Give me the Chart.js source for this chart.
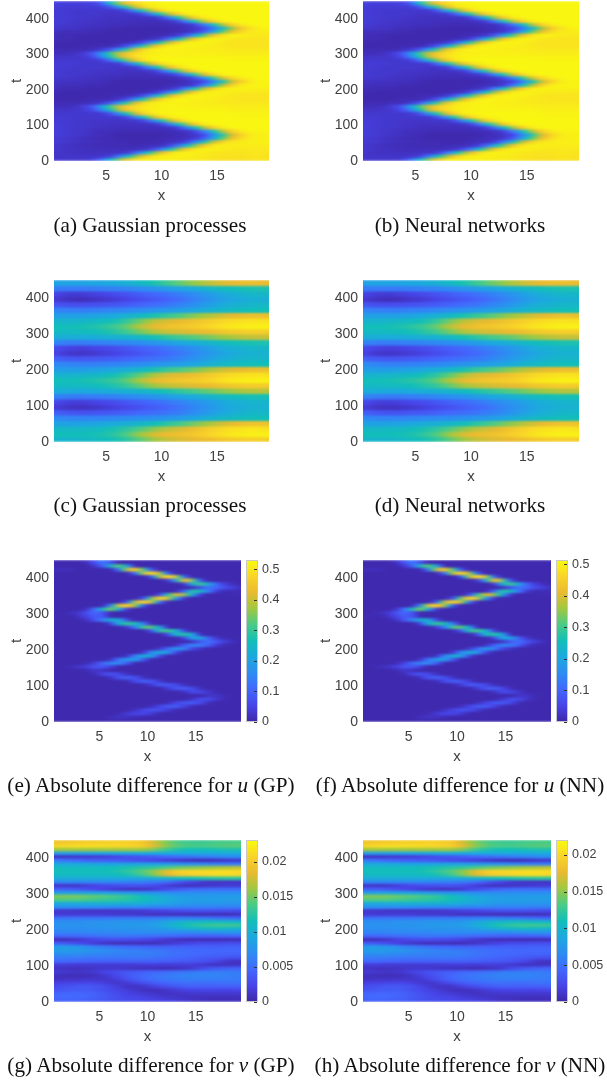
<!DOCTYPE html>
<html>
<head>
<meta charset="utf-8">
<script src="https://cdn.jsdelivr.net/npm/chart.js@4"></script>
<style>
body { margin: 0; background: #fff; width: 607px; height: 1081px; position: relative; overflow: hidden; }
canvas { position: absolute; }
.clip { position: absolute; overflow: hidden; filter: blur(0.4px); }
.heat { filter: url(#smear); }
.axes { filter: blur(0.3px); }
.cap { position: absolute; width: 310px; text-align: center; font: 21.2px "Liberation Serif", serif; color: #111; white-space: nowrap; filter: blur(0.3px); }
</style>
</head>
<body>
<svg width="0" height="0" style="position:absolute">
  <filter id="smear" x="-10%" y="-10%" width="120%" height="120%" color-interpolation-filters="sRGB">
    <feGaussianBlur stdDeviation="3.2 0.8"/>
  </filter>
</svg>
<script>
// grid columns and rows, grid values are percent of the panel's colour range
const xFine = [0.3,1.1,2,2.8,3.7,4.5,5.4,6.2,7,7.9,8.7,9.6,10.4,11.3,12.1,12.9,13.8,14.6,15.5,16.3,17.2,18,18.9,19.7];
const xCoarse = [0.3,1.6,2.9,4.2,5.5,6.8,8.1,9.4,10.6,11.9,13.2,14.5,15.8,17.1,18.4,19.7];
const tFine = [5,15,25,35,45,55,65,75,85,95,105,115,125,135,145,155,165,175,185,195,205,215,225,235,245,255,265,275,285,295,305,315,325,335,345,355,365,375,385,395,405,415,425,435,445];
const tCoarse = [7.5,22.5,37.5,52.5,67.5,82.5,97.5,112.5,127.5,142.5,157.5,172.5,187.5,202.5,217.5,232.5,247.5,262.5,277.5,292.5,307.5,322.5,337.5,352.5,367.5,382.5,397.5,412.5,427.5,442.5];

const xTicks = [5,10,15];
const tTicks = [0,100,200,300,400];
const barTicksU = [0,0.1,0.2,0.3,0.4,0.5];
const barTicksV = [0,0.005,0.01,0.015,0.02];

const uField = [
[6,6,6,6,7,18,45,67,85,95,97,97,97,97,96,96,95,94,93,93,93,94,94,93],
[5,5,5,5,5,5,8,25,48,72,88,96,97,97,97,96,95,94,94,93,93,94,94,93],
[5,5,4,4,4,4,4,5,7,25,48,72,88,96,97,97,96,95,94,94,94,95,95,94],
[6,5,4,4,3,3,3,3,3,4,6,16,38,63,84,94,97,97,96,95,95,95,95,95],
[6,5,4,3,3,2,2,2,2,2,3,3,6,18,42,63,85,95,97,96,96,96,96,96],
[7,6,5,4,3,3,2,2,2,1,1,2,3,4,8,25,50,73,90,95,96,97,97,97],
[7,6,5,4,3,2,2,1,1,1,1,1,2,3,3,6,15,38,62,82,92,96,97,97],
[8,7,6,5,4,3,2,1,1,1,1,1,1,2,3,5,10,28,52,76,89,95,97,97],
[8,7,6,5,4,3,3,2,2,2,2,2,2,3,4,8,25,46,72,88,95,98,98,98],
[8,7,6,6,5,4,4,3,3,3,3,3,4,7,22,45,70,87,96,98,99,99,99,99],
[8,7,6,6,5,5,4,4,4,4,4,6,15,42,63,84,95,98,99,99,99,99,99,99],
[7,7,6,6,5,5,5,5,5,6,14,38,61,84,94,98,99,99,99,99,99,99,99,99],
[7,7,6,6,6,6,6,6,13,35,58,82,93,97,98,99,99,99,99,99,98,98,98,98],
[6,6,6,6,6,6,13,33,55,80,92,97,98,99,99,99,99,99,99,98,98,98,98,98],
[5,5,5,6,11,24,48,72,86,93,96,98,98,98,98,98,98,98,98,97,97,97,97,97],
[3,3,4,7,14,36,60,78,88,93,96,97,98,98,98,97,97,97,97,96,96,96,96,96],
[2,2,2,3,3,6,15,38,60,84,94,97,98,98,97,97,96,96,95,95,95,95,95,95],
[1,1,1,1,2,2,2,6,15,42,63,85,95,98,98,97,97,96,95,95,94,94,94,94],
[1,1,1,1,1,1,2,2,3,7,18,45,67,87,95,98,98,97,96,95,94,94,94,94],
[2,1,1,1,1,1,1,1,1,2,3,7,22,48,70,87,96,98,97,96,95,95,95,95],
[3,2,2,2,1,1,1,1,1,1,1,2,3,8,25,48,72,88,96,98,98,97,97,96],
[4,3,3,3,2,2,1,1,1,1,1,1,2,3,4,7,24,48,72,88,96,98,98,98],
[5,4,4,4,3,3,2,1,1,1,1,1,1,2,3,5,9,25,48,74,88,95,98,98],
[6,6,5,5,4,4,3,3,2,2,2,2,2,3,5,11,30,55,78,90,96,98,99,99],
[7,6,6,5,5,4,4,4,3,3,3,4,6,10,30,53,77,91,97,99,99,99,99,99],
[7,6,6,6,5,5,5,4,4,4,5,9,28,53,76,90,97,99,99,99,99,99,99,99],
[7,7,6,6,6,6,5,5,5,8,25,50,73,90,96,99,99,99,99,99,99,99,99,99],
[7,7,7,6,6,6,6,7,22,48,70,88,95,98,99,99,99,99,99,99,99,99,99,99],
[6,6,6,6,6,7,22,45,67,87,95,98,99,99,99,99,99,99,99,98,98,98,98,98],
[5,5,5,6,10,26,52,73,87,94,97,98,98,98,98,98,98,98,98,98,98,98,98,98],
[3,3,4,6,13,32,58,76,87,93,96,97,97,97,97,97,97,97,96,96,96,96,96,96],
[2,2,2,2,3,6,15,38,60,84,94,97,98,98,97,97,96,96,96,95,95,95,95,95],
[1,1,1,1,2,2,2,6,15,42,63,85,95,98,98,97,97,96,95,94,94,94,94,94],
[2,1,1,1,1,1,1,2,3,7,18,45,67,87,95,98,98,97,95,94,94,94,94,94],
[3,2,2,1,1,1,1,1,1,1,3,5,15,42,63,84,95,98,97,95,94,94,94,94],
[3,2,2,1,1,1,1,1,1,1,1,2,3,6,14,36,60,82,94,98,97,96,95,95],
[4,3,3,3,2,2,1,1,1,1,1,1,1,2,3,6,15,38,62,80,91,95,96,96],
[6,5,5,4,3,3,2,2,1,1,1,1,1,2,3,5,9,22,44,68,85,93,97,98],
[7,6,5,5,4,4,3,3,3,2,2,2,2,3,4,8,25,46,72,88,95,98,99,99],
[7,7,6,5,5,4,4,4,3,3,3,3,4,7,24,48,72,88,96,98,99,99,99,99],
[7,7,6,6,5,5,4,4,4,4,4,6,18,46,68,87,96,98,99,99,99,99,99,99],
[7,7,6,6,6,5,5,5,5,7,18,45,67,87,95,98,99,99,99,99,99,99,99,99],
[7,7,6,6,6,6,6,6,15,42,63,85,95,98,99,99,99,99,99,99,99,99,99,99],
[8,7,7,7,7,7,14,36,58,82,93,97,98,99,99,99,99,99,99,99,99,99,99,99],
[9,8,8,8,9,14,48,70,85,93,97,98,99,99,99,99,99,99,99,99,99,99,99,99]
];

const vField = [
[45,45,46,48,50,54,62,70,75,78,80,82,85,87,88,87],
[50,50,50,51,54,60,70,78,81,83,86,90,94,96,97,97],
[47,47,47,48,51,55,61,68,74,78,83,88,92,94,95,93],
[38,38,38,39,41,43,46,50,55,60,66,72,78,82,84,83],
[30,28,28,28,29,30,31,32,34,36,40,44,47,49,50,50],
[18,15,14,15,16,18,20,22,24,27,31,36,41,44,46,46],
[8,5,4,6,8,11,14,17,20,24,29,34,39,42,44,44],
[12,8,8,10,12,15,18,21,24,28,32,36,41,43,45,45],
[28,26,25,26,27,29,31,33,36,39,42,45,48,50,51,51],
[42,41,40,41,42,43,45,48,52,56,60,64,68,71,73,73],
[48,48,48,49,52,56,63,70,74,77,79,81,84,86,87,86],
[50,50,51,53,56,62,72,80,83,85,87,90,94,96,97,97],
[44,45,46,47,50,55,63,72,78,80,83,87,91,93,94,93],
[36,36,36,37,39,42,46,52,57,61,66,72,77,80,82,82],
[30,28,27,27,28,29,31,33,35,37,40,44,47,49,50,50],
[18,16,15,16,17,19,21,23,25,29,33,38,42,45,46,46],
[10,6,5,7,9,12,15,18,21,25,30,35,39,42,44,44],
[12,9,8,10,12,15,18,21,24,28,32,37,42,44,46,46],
[28,26,26,27,28,29,31,34,37,40,43,46,49,51,52,52],
[42,42,41,42,43,44,47,51,55,59,62,66,70,73,75,75],
[48,48,49,50,53,58,65,72,76,78,80,82,85,87,88,87],
[50,50,51,53,57,63,73,80,83,85,87,91,94,96,97,97],
[45,45,46,48,50,56,65,74,78,81,84,88,91,93,94,93],
[36,37,37,38,40,43,47,52,57,62,68,73,78,81,83,82],
[28,27,26,27,28,29,31,33,35,37,40,44,47,49,50,50],
[15,13,13,14,15,17,19,22,24,28,32,37,42,44,46,46],
[7,4,3,5,7,10,13,16,19,23,28,33,38,41,43,43],
[10,7,7,9,11,14,17,20,23,27,31,36,41,44,46,46],
[26,25,25,26,27,28,30,33,36,39,42,46,49,51,52,52],
[38,38,38,39,40,43,47,52,58,64,70,75,79,81,82,80]
];

const uDiff = [
[1,1,1,1,1,1,1,2,1,1,1,1,1,1,1,1,1,1,1,1,1,1,1,1],
[1,1,1,1,1,1,1,3,5,4,2,1,1,1,1,1,1,1,1,1,1,1,1,1],
[1,1,1,1,1,1,1,1,2,7,10,10,7,1,1,1,1,1,1,1,1,1,1,1],
[1,1,1,1,1,1,1,1,1,1,4,10,15,13,7,2,1,1,1,1,1,1,1,1],
[1,1,1,1,1,1,1,1,1,1,1,1,3,10,16,17,9,3,1,1,1,1,1,1],
[1,1,1,1,1,1,1,1,1,1,1,1,1,1,2,9,15,17,12,3,1,1,1,1],
[1,1,1,1,1,1,1,1,1,1,1,1,1,1,1,1,1,5,12,12,5,2,1,1],
[1,1,1,1,1,1,1,1,1,1,1,1,1,1,1,1,1,1,1,5,5,2,1,1],
[1,1,1,1,1,1,1,1,1,1,1,1,1,1,1,1,3,12,11,6,1,1,1,1],
[1,1,1,1,1,1,1,1,1,1,1,1,1,1,7,15,17,12,3,1,1,1,1,1],
[1,1,1,1,1,1,1,1,1,1,1,2,7,17,15,11,3,1,1,1,1,1,1,1],
[1,1,1,1,1,1,1,1,1,2,12,18,16,6,1,1,1,1,1,1,1,1,1,1],
[1,1,1,1,1,1,1,4,15,18,14,4,1,1,1,1,1,1,1,1,1,1,1,1],
[1,1,1,1,1,2,11,15,11,3,1,1,1,1,1,1,1,1,1,1,1,1,1,1],
[1,1,1,1,2,6,4,1,1,1,1,1,1,1,1,1,1,1,1,1,1,1,1,1],
[1,1,3,5,8,15,15,9,1,1,1,1,1,1,1,1,1,1,1,1,1,1,1,1],
[1,1,1,1,2,8,21,29,30,15,1,1,1,1,1,1,1,1,1,1,1,1,1,1],
[1,1,1,1,1,1,1,4,24,36,38,14,1,1,1,1,1,1,1,1,1,1,1,1],
[1,1,1,1,1,1,1,1,1,4,28,46,40,9,1,1,1,1,1,1,1,1,1,1],
[1,1,1,1,1,1,1,1,1,1,1,5,30,44,36,11,1,1,1,1,1,1,1,1],
[1,1,1,1,1,1,1,1,1,1,1,1,1,6,20,36,30,10,5,1,1,1,1,1],
[1,1,1,1,1,1,1,1,1,1,1,1,1,1,1,3,18,29,27,17,6,2,1,1],
[1,1,1,1,1,1,1,1,1,1,1,1,1,1,1,1,1,3,15,24,15,8,3,1],
[1,1,1,1,1,1,1,1,1,1,1,1,1,1,1,1,8,40,42,18,5,2,1,1],
[1,1,1,1,1,1,1,1,1,1,1,1,1,1,10,48,56,44,1,1,1,1,1,1],
[1,1,1,1,1,1,1,1,1,1,1,1,14,56,60,48,8,1,1,1,1,1,1,1],
[1,1,1,1,1,1,1,1,1,6,24,62,64,40,1,1,1,1,1,1,1,1,1,1],
[1,1,1,1,1,1,1,8,44,58,52,24,1,1,1,1,1,1,1,1,1,1,1,1],
[2,1,1,1,4,14,30,44,44,10,1,1,1,1,1,1,1,1,1,1,1,1,1,1],
[2,2,1,4,10,17,15,1,1,1,1,1,1,1,1,1,1,1,1,1,1,1,1,1],
[1,1,3,6,13,22,14,1,1,1,1,1,1,1,1,1,1,1,1,1,1,1,1,1],
[1,1,1,1,4,22,50,70,42,5,1,1,1,1,1,1,1,1,1,1,1,1,1,1],
[1,1,1,1,1,1,1,30,85,92,74,12,1,1,1,1,1,1,1,1,1,1,1,1],
[1,1,1,1,1,1,1,1,1,14,78,95,82,20,1,1,1,1,1,1,1,1,1,1],
[1,1,1,1,1,1,1,1,1,1,1,12,65,95,82,38,4,1,1,1,1,1,1,1],
[1,1,1,1,1,1,1,1,1,1,1,1,1,10,52,80,72,42,6,1,1,1,2,2],
[1,1,1,1,1,1,1,1,1,1,1,1,1,1,1,1,18,56,50,26,6,2,2,2],
[1,1,1,1,1,1,1,1,1,1,1,1,1,1,1,1,1,3,12,24,20,12,8,4],
[1,1,1,1,1,1,1,1,1,1,1,1,1,1,1,1,4,42,62,42,18,8,3,1],
[1,1,1,1,1,1,1,1,1,1,1,1,1,1,5,36,88,72,12,1,1,1,1,1],
[1,1,1,1,1,1,1,1,1,1,1,1,12,78,95,86,18,1,1,1,1,1,1,1],
[1,1,1,1,1,1,1,1,1,1,18,80,95,76,16,1,1,1,1,1,1,1,1,1],
[3,3,3,1,1,1,1,1,22,78,90,60,12,1,1,1,1,1,1,1,1,1,1,1],
[1,1,1,1,1,5,18,48,66,40,1,1,1,1,1,1,1,1,1,1,1,1,1,1],
[1,1,1,1,4,14,26,14,1,1,1,1,1,1,1,1,1,1,1,1,1,1,1,1]
];

const vDiff = [
[17,19,18,17,15,13,12,11,10,9,7,5,4,3,3,3],
[20,21,20,19,16,13,11,10,8,6,5,4,4,3,3,4],
[19,20,20,19,16,12,9,7,5,4,5,6,6,6,6,6],
[14,16,16,16,13,10,7,4,3,5,8,10,10,10,10,11],
[12,14,16,16,13,8,4,5,9,13,16,18,18,18,18,18],
[8,9,10,10,8,5,8,13,17,20,22,23,22,22,23,23],
[4,5,5,6,5,8,14,19,22,24,25,26,26,26,25,25],
[4,3,3,3,6,11,16,20,23,25,27,28,28,28,27,26],
[7,6,5,6,10,13,16,18,20,21,23,25,26,26,26,25],
[5,4,4,5,6,6,5,4,4,3,4,6,12,16,18,18],
[8,8,7,7,7,7,7,8,8,7,8,8,6,4,4,5],
[20,20,19,18,18,18,18,18,18,17,16,15,14,10,5,4],
[26,26,25,24,24,24,24,24,23,22,20,19,17,16,14,14],
[31,31,30,29,28,27,27,27,26,24,22,21,20,19,19,19],
[36,36,35,33,31,29,27,26,25,23,22,21,20,20,20,20],
[35,35,33,28,25,22,20,19,18,18,18,18,18,18,18,18],
[18,16,12,8,5,3,3,3,3,5,8,10,12,12,13,13],
[3,4,6,10,12,13,12,11,9,6,4,3,3,3,3,3],
[20,20,21,22,23,24,24,23,22,21,20,19,18,18,19,20],
[28,28,28,29,29,29,30,30,30,30,29,29,30,32,33,32],
[30,31,31,31,32,32,33,33,34,36,40,44,46,47,45,44],
[32,32,32,33,33,34,35,35,36,42,48,53,56,58,58,57],
[31,31,31,32,32,33,33,33,34,38,42,46,47,47,46,44],
[22,22,23,23,23,24,24,24,24,25,26,25,24,22,20,18],
[7,7,7,7,7,6,6,5,4,4,4,3,3,3,3,5],
[6,6,5,5,5,5,6,7,9,10,12,14,14,14,13,12],
[30,30,30,30,29,28,28,28,27,27,27,26,26,26,26,26],
[40,40,41,42,43,43,43,42,40,38,36,34,34,34,33,33],
[60,60,60,58,56,55,53,50,46,42,38,36,36,36,35,35],
[66,66,65,63,61,58,55,50,45,40,37,36,36,36,36,36],
[36,37,38,38,37,35,33,32,31,30,30,30,30,30,30,30],
[18,18,16,12,9,6,5,5,7,12,16,20,22,22,22,22],
[6,6,6,9,11,13,14,14,12,8,5,4,5,6,7,7],
[28,28,28,28,28,28,27,26,25,22,15,10,6,5,5,5],
[42,42,42,42,42,41,40,40,42,45,48,50,52,54,55,55],
[48,48,48,48,48,49,52,58,66,78,86,88,90,92,92,90],
[50,50,50,50,50,52,56,62,68,80,88,90,91,92,92,91],
[48,48,48,48,48,50,52,54,56,60,64,66,68,70,72,74],
[40,40,40,39,38,38,38,38,37,35,33,31,29,27,26,26],
[25,23,20,18,17,16,14,12,10,8,6,4,3,4,6,7],
[5,5,6,7,8,10,13,15,17,20,22,24,26,28,30,31],
[35,36,36,37,38,39,40,40,40,40,40,40,40,40,40,40],
[70,70,70,70,70,70,70,70,66,58,52,50,50,51,52,52],
[90,91,92,92,92,91,90,88,80,68,62,60,60,61,62,62],
[84,85,86,87,88,88,88,86,76,66,60,58,58,59,60,60]
];

const parula = [[62,38,168],[71,68,232],[67,103,253],[45,140,243],[28,169,223],[18,190,185],[72,203,135],[160,200,65],[234,186,48],[249,213,40],[249,251,14]];

function colourAt(pct) {
    let p = Math.max(0, Math.min(0.9999, pct / 100)) * 10;
    let i = Math.floor(p), f = p - i;
    let a = parula[i], b = parula[i + 1];
    return 'rgb(' + [0, 1, 2].map(k => Math.round(a[k] + (b[k] - a[k]) * f)).join(',') + ')';
}

function rowGradient(c, row, xs) {
    let sx = c.chart.scales.x;
    let left = sx.getPixelForValue(xs[0]), right = sx.getPixelForValue(xs[xs.length - 1]);
    // scale has no size on the first pass
    if (!isFinite(left) || !isFinite(right) || right <= left) return '#3e26a8';
    let g = c.chart.ctx.createLinearGradient(left, 0, right, 0);
    for (let i = 0; i < xs.length - 1; i++) {
        // same idea as matlab's shading interp, colour goes through the map
        for (let s = 0; s <= 5; s++) {
            let x = xs[i] + (xs[i + 1] - xs[i]) * s / 5;
            let v = row[i] + (row[i + 1] - row[i]) * s / 5;
            g.addColorStop((sx.getPixelForValue(x) - left) / (right - left), colourAt(v));
        }
    }
    return g;
}

function addCanvas(parent, left, top, w, h, cls) {
    let cv = document.createElement('canvas');
    cv.width = w;
    cv.height = h;
    cv.style.left = left + 'px';
    cv.style.top = top + 'px';
    cv.style.width = w + 'px';
    cv.style.height = h + 'px';
    cv.className = cls;
    parent.appendChild(cv);
    return cv;
}

function heatPanel(p, grid, xs, ts) {
    // canvas is wider than the plot so the smear has colour to pull in at the sides
    let ext = 14;
    let clip = document.createElement('div');
    clip.className = 'clip';
    clip.style.cssText = 'left:' + p.l + 'px;top:' + p.t + 'px;width:' + p.w + 'px;height:' + p.h + 'px';
    document.body.appendChild(clip);
    let perPx = (19.7 - 0.3) / p.w;
    let xMin = 0.3 - ext * perPx, xMax = 19.7 + ext * perPx;
    new Chart(addCanvas(clip, -ext, 0, p.w + 2 * ext, p.h, 'heat'), {
        type: 'bar',
        data: {
            datasets: [{
                data: ts.map(t => ({x: [xMin, xMax], y: t})),
                backgroundColor: c => {
                    if (c.dataIndex === undefined || !c.chart.scales.x) return '#3e26a8';
                    return rowGradient(c, grid[c.dataIndex], xs);
                },
                borderWidth: 0,
                inflateAmount: 0.6,
                barPercentage: 1,
                categoryPercentage: 1
            }]
        },
        options: {
            indexAxis: 'y',
            responsive: false,
            animation: false,
            layout: {padding: 0},
            plugins: {legend: {display: false}, tooltip: {enabled: false}},
            scales: {
                x: {type: 'linear', min: xMin, max: xMax, display: false},
                y: {type: 'linear', min: 0, max: 450, display: false, offset: false}
            }
        }
    });
}

function axesPanel(p) {
    let font = {family: '"Liberation Sans", Arial, sans-serif', size: 14};
    let titleFont = {family: '"Liberation Sans", Arial, sans-serif', size: 15};
    let pad = Math.min(p.t, 8);
    new Chart(addCanvas(document.body, p.l - 54, p.t - pad, p.w + 54 + 8, p.h + pad + 45, 'axes'), {
        type: 'scatter',
        data: {datasets: [{data: []}]},
        options: {
            responsive: false,
            animation: false,
            layout: {padding: {top: pad, right: 8, left: 0, bottom: 0}},
            plugins: {legend: {display: false}, tooltip: {enabled: false}},
            scales: {
                x: {
                    min: 0.3, max: 19.7,
                    grid: {display: false, drawTicks: false},
                    border: {display: false},
                    title: {display: true, text: 'x', color: '#404040', font: titleFont, padding: {top: 0, bottom: 1}},
                    ticks: {color: '#404040', font: font, padding: 7, maxRotation: 0, callback: v => String(v)},
                    afterBuildTicks: s => { s.ticks = xTicks.map(v => ({value: v})); },
                    afterFit: s => { s.height = 45; s.paddingLeft = 0; s.paddingRight = 0; }
                },
                y: {
                    min: 0, max: 450,
                    grid: {display: false, drawTicks: false},
                    border: {display: false},
                    title: {display: true, text: 't', color: '#404040', font: titleFont, padding: {top: 8, bottom: 0}},
                    ticks: {color: '#404040', font: font, padding: 5, callback: v => String(v)},
                    afterBuildTicks: s => { s.ticks = tTicks.map(v => ({value: v})); },
                    afterFit: s => { s.width = 54; s.paddingTop = 0; s.paddingBottom = 0; }
                }
            }
        }
    });
}

// short black marks on the inside of the bar, as matlab draws them
const barMarks = {
    id: 'barMarks',
    afterDatasetsDraw(chart) {
        let ctx = chart.ctx, sy = chart.scales.y, right = chart.chartArea.right;
        ctx.save();
        ctx.strokeStyle = '#333';
        sy.ticks.forEach(t => {
            let y = Math.round(sy.getPixelForValue(t.value)) + 0.5;
            ctx.beginPath();
            ctx.moveTo(right - 4, y);
            ctx.lineTo(right - 1, y);
            ctx.stroke();
        });
        ctx.restore();
    }
};

function colourBar(p, ticks, maxVal) {
    let font = {family: '"Liberation Sans", Arial, sans-serif', size: 12.5};
    let left = p.l + p.w + 5;
    new Chart(addCanvas(document.body, left, p.t - 8, 12 + 48, p.h + 16, 'axes'), {
        type: 'bar',
        plugins: [barMarks],
        data: {
            labels: ['c'],
            datasets: [{
                data: [[0, maxVal]],
                backgroundColor: c => {
                    let area = c.chart.chartArea;
                    if (!area) return '#3e26a8';
                    let g = c.chart.ctx.createLinearGradient(0, area.bottom, 0, area.top);
                    parula.forEach((col, i) => g.addColorStop(i / 10, 'rgb(' + col.join(',') + ')'));
                    return g;
                },
                borderColor: '#c8c8c8',
                borderWidth: 1,
                borderSkipped: false,
                inflateAmount: 0,
                barPercentage: 1,
                categoryPercentage: 1
            }]
        },
        options: {
            responsive: false,
            animation: false,
            layout: {padding: {top: 8, bottom: 8, left: 0, right: 0}},
            plugins: {legend: {display: false}, tooltip: {enabled: false}},
            scales: {
                x: {display: false},
                y: {
                    position: 'right',
                    min: 0, max: maxVal,
                    grid: {display: false, drawTicks: false},
                    border: {display: false},
                    ticks: {color: '#404040', font: font, padding: 4, callback: v => String(v)},
                    afterBuildTicks: s => { s.ticks = ticks.map(v => ({value: v})); },
                    afterFit: s => { s.width = 48; s.paddingTop = 0; s.paddingBottom = 0; }
                }
            }
        }
    });
}

function caption(html, cx, cy) {
    let d = document.createElement('div');
    d.className = 'cap';
    d.innerHTML = html;
    d.style.left = (cx - 155) + 'px';
    d.style.top = (cy - 12) + 'px';
    document.body.appendChild(d);
}

const panels = [
    {p: {l: 54, t: 1, w: 215, h: 160}, grid: uField, xs: xFine, ts: tFine},
    {p: {l: 363, t: 1, w: 216, h: 160}, grid: uField, xs: xFine, ts: tFine},
    {p: {l: 54, t: 280, w: 215, h: 162}, grid: vField, xs: xCoarse, ts: tCoarse},
    {p: {l: 363, t: 280, w: 216, h: 162}, grid: vField, xs: xCoarse, ts: tCoarse},
    {p: {l: 54, t: 560, w: 187, h: 162}, grid: uDiff, xs: xFine, ts: tFine, bar: barTicksU, max: 0.53},
    {p: {l: 363, t: 560, w: 188, h: 162}, grid: uDiff, xs: xFine, ts: tFine, bar: barTicksU, max: 0.513},
    {p: {l: 54, t: 840, w: 187, h: 162}, grid: vDiff, xs: xCoarse, ts: tFine, bar: barTicksV, max: 0.0231},
    {p: {l: 363, t: 840, w: 188, h: 162}, grid: vDiff, xs: xCoarse, ts: tFine, bar: barTicksV, max: 0.022}
];

panels.forEach(o => {
    heatPanel(o.p, o.grid, o.xs, o.ts);
    axesPanel(o.p);
    if (o.bar) colourBar(o.p, o.bar, o.max);
});

caption('(a) Gaussian processes', 150, 225);
caption('(b) Neural networks', 460, 225);
caption('(c) Gaussian processes', 150, 505);
caption('(d) Neural networks', 460, 505);
caption('(e) Absolute difference for <i>u</i> (GP)', 151, 785);
caption('(f) Absolute difference for <i>u</i> (NN)', 460, 785);
caption('(g) Absolute difference for <i>v</i> (GP)', 151, 1065);
caption('(h) Absolute difference for <i>v</i> (NN)', 460, 1065);
</script>
</body>
</html>
